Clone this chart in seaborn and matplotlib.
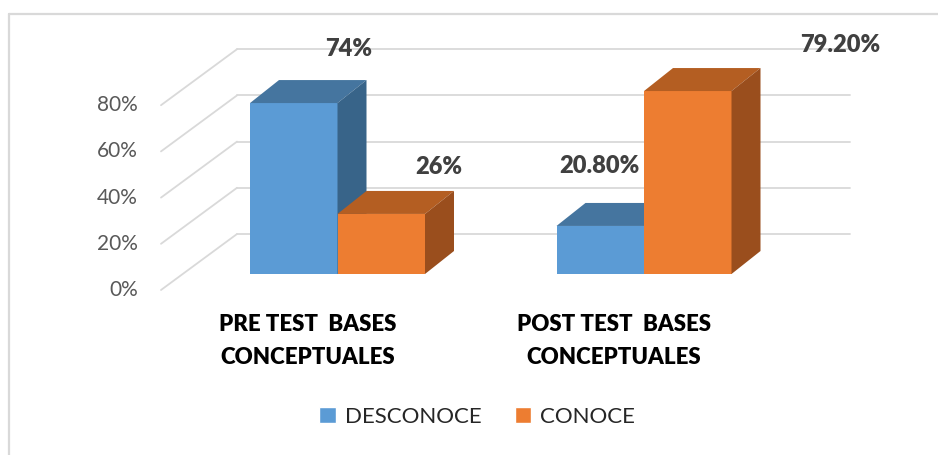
import matplotlib
matplotlib.use('Agg')
import matplotlib.pyplot as plt
from matplotlib.patches import Polygon, Patch
import seaborn as sns
import pandas as pd

#chart data
categories = ['PRE TEST  BASES\nCONCEPTUALES', 'POST TEST  BASES\nCONCEPTUALES']
series = ['DESCONOCE', 'CONOCE']
desconoce = [0.74, 0.208]
conoce = [0.26, 0.792]
label_decimals = [0, 2]
y_ticks = [0, 20, 40, 60, 80]

colors_front = ['#5B9BD5', '#ED7D31']
colors_top = ['#45759F', '#B45E22']
colors_side = ['#386489', '#9A4E1D']

#pixel layout of the excel style 3d chart
X0, XS = 337.5, 306.5   #pixel of first category center, pixels per category
Y0, YS = 274, 2.31      #pixel of the bar base, pixels per percent
DEPTH_X, DEPTH_Y = 29, 23


def px_x(p):
    return (p - X0) / XS


def px_y(p):
    return (Y0 - p) / YS


df = pd.DataFrame({
    'category': categories * 2,
    'series': [series[0]] * 2 + [series[1]] * 2,
    'value': [v * 100 for v in desconoce + conoce],
})

sns.set_style('white')
plt.rcParams['font.family'] = ['Lato', 'DejaVu Sans']

fig = plt.figure(figsize=(9.38, 4.55), dpi=100)
ax = fig.add_axes([0, 0, 1, 1])

sns.barplot(data=df, x='category', y='value', hue='series', hue_order=series,
            palette=colors_front, width=175 / XS, gap=0, legend=False,
            linewidth=0, saturation=1, ax=ax, zorder=3)

ax.set_xlim(px_x(0), px_x(938))
ax.set_ylim(px_y(455), px_y(0))
ax.axis('off')

#back wall and floor gridlines
grid_col = '#D9D9D9'
for t in y_ticks:
    yb = px_y(234) + t
    yf = px_y(290) + t
    ax.plot([px_x(237), px_x(850)], [yb, yb], color=grid_col, lw=1.3, zorder=1)
    ax.plot([px_x(161), px_x(237)], [yf, yb], color=grid_col, lw=1.3, zorder=1)
    ax.text(px_x(138), yf, f'{t}%', ha='right', va='center', fontsize=15,
            color='#595959')

#chart border (left and top only visible)
ax.plot([px_x(9), px_x(9)], [px_y(14), px_y(460)], color=grid_col, lw=1.6, zorder=1)
ax.plot([px_x(9), px_x(945)], [px_y(14), px_y(14)], color=grid_col, lw=1.6, zorder=1)

#3d top and side faces for each bar
ddx = DEPTH_X / XS
ddy = DEPTH_Y / YS
bars = []
for si, cont in enumerate(ax.containers):
    for ci, bar in enumerate(cont):
        bars.append((bar.get_x(), si, ci, bar))
bars.sort(key=lambda b: b[0])

label_offsets = [(55, -54), (57, -47), (-1, -60), (152, -46)]
for i, (_, si, ci, bar) in enumerate(bars):
    z = 3 + i
    x0 = bar.get_x()
    w = bar.get_width()
    h = bar.get_height()
    bar.set_zorder(z)
    top = Polygon([(x0, h), (x0 + w, h), (x0 + w + ddx, h + ddy), (x0 + ddx, h + ddy)],
                  closed=True, facecolor=colors_top[si], lw=0, zorder=z)
    side = Polygon([(x0 + w, 0), (x0 + w, h), (x0 + w + ddx, h + ddy), (x0 + w + ddx, ddy)],
                   closed=True, facecolor=colors_side[si], lw=0, zorder=z)
    ax.add_patch(top)
    ax.add_patch(side)

    #value label
    dec = label_decimals[ci]
    txt = f'{h:.{dec}f}%'
    ox, oy = label_offsets[i]
    ax.text(x0 + w / 2 + ox / XS, h - oy / YS, txt, ha='center', va='center',
            fontsize=17, fontweight='heavy', color='#404040', zorder=20)

#category labels under the bars
for ci, cat in enumerate(categories):
    ax.text(ci - 30 / XS, px_y(341), cat, ha='center', va='center', fontsize=16,
            fontweight='heavy', color='black', linespacing=1.7)

handles = [Patch(facecolor=c, label=s) for c, s in zip(colors_front, series)]
fig.legend(handles=handles, loc='center', bbox_to_anchor=(477 / 938, 1 - 417 / 455),
           ncol=2, frameon=False, fontsize=16, handlelength=0.75, handleheight=0.75,
           handletextpad=0.4, columnspacing=1.5, labelcolor='#262626')

fig.savefig('out.png', dpi=100)
